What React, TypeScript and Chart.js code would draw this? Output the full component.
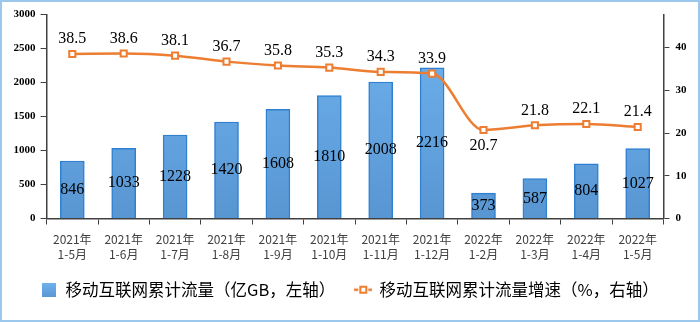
import React, { useEffect, useRef } from "react";
import { Chart, registerables } from "chart.js";

Chart.register(...registerables);

const categories: string[][] = [
  ["2021年", "1-5月"],
  ["2021年", "1-6月"],
  ["2021年", "1-7月"],
  ["2021年", "1-8月"],
  ["2021年", "1-9月"],
  ["2021年", "1-10月"],
  ["2021年", "1-11月"],
  ["2021年", "1-12月"],
  ["2022年", "1-2月"],
  ["2022年", "1-3月"],
  ["2022年", "1-4月"],
  ["2022年", "1-5月"],
];
const trafficValues = [846, 1033, 1228, 1420, 1608, 1810, 2008, 2216, 373, 587, 804, 1027];
const growthValues = [38.5, 38.6, 38.1, 36.7, 35.8, 35.3, 34.3, 33.9, 20.7, 21.8, 22.1, 21.4];
const leftTickValues = [0, 500, 1000, 1500, 2000, 2500, 3000];
const rightTickValues = [0, 10, 20, 30, 40];
const seriesNames = ["移动互联网累计流量（亿GB，左轴）", "移动互联网累计流量增速（%，右轴）"];

const ORANGE = "#ED7D31";
const BAR_BORDER = "#2F80D0";
const AXIS = "#404040";

function makeBarSwatch() {
  const c = document.createElement("canvas");
  c.width = 14;
  c.height = 14;
  const g = c.getContext("2d")!;
  const grad = g.createLinearGradient(0, 0, 0, 14);
  grad.addColorStop(0, "#6FB2EE");
  grad.addColorStop(1, "#5A98D4");
  g.fillStyle = grad;
  g.fillRect(0, 0, 14, 14);
  return c;
}

function makeLineSwatch() {
  const c = document.createElement("canvas");
  c.width = 18;
  c.height = 10;
  const g = c.getContext("2d")!;
  g.strokeStyle = ORANGE;
  g.lineWidth = 2.5;
  g.beginPath();
  g.moveTo(0, 5);
  g.lineTo(4, 5);
  g.moveTo(14, 5);
  g.lineTo(18, 5);
  g.stroke();
  g.fillStyle = "#fff";
  g.fillRect(5, 1, 8, 8);
  g.lineWidth = 2;
  g.strokeRect(6, 2, 6, 6);
  return c;
}

const valueLabelPlugin = {
  id: "valueLabels",
  afterDatasetsDraw(chart: any) {
    const ctx = chart.ctx;
    ctx.save();
    ctx.font = '16px "Liberation Serif"';
    ctx.fillStyle = "#000";
    ctx.textAlign = "center";
    ctx.textBaseline = "middle";
    const barMeta = chart.getDatasetMeta(0);
    barMeta.data.forEach((el: any, i: number) => {
      const p = el.getProps(["x", "y", "base"], true);
      ctx.fillText(String(trafficValues[i]), p.x, (p.y + p.base) / 2);
    });
    const lineMeta = chart.getDatasetMeta(1);
    lineMeta.data.forEach((el: any, i: number) => {
      const below = i > 0 && growthValues[i] < growthValues[i - 1] - 5;
      ctx.fillText(growthValues[i].toFixed(1), el.x, el.y + (below ? 16 : -15));
    });
    ctx.restore();
  },
};

export default function App() {
  const ref = useRef<HTMLCanvasElement | null>(null);

  useEffect(() => {
    if (!ref.current) return;
    const barSwatch = makeBarSwatch();
    const lineSwatch = makeLineSwatch();
    const tickFont = { family: '"Liberation Serif"', size: 11, weight: "bold" as const };

    const chart = new Chart(ref.current, {
      type: "bar",
      data: {
        labels: categories,
        datasets: [
          {
            type: "bar",
            label: seriesNames[0],
            data: trafficValues,
            yAxisID: "y",
            order: 1,
            backgroundColor: (c: any) => {
              const area = c.chart.chartArea;
              if (!area) return "#62A5E4";
              const g = c.chart.ctx.createLinearGradient(0, area.top, 0, area.bottom);
              g.addColorStop(0, "#70B4F0");
              g.addColorStop(1, "#5896D2");
              return g;
            },
            borderColor: BAR_BORDER,
            borderWidth: 1.5,
            barThickness: 24,
          } as any,
          {
            type: "line",
            label: seriesNames[1],
            data: growthValues,
            yAxisID: "y1",
            order: 0,
            borderColor: ORANGE,
            borderWidth: 2.5,
            cubicInterpolationMode: "monotone",
            pointStyle: "rect",
            pointRadius: 4.3,
            pointBorderWidth: 2,
            pointBackgroundColor: "#fff",
            pointBorderColor: ORANGE,
          } as any,
        ],
      },
      options: {
        animation: false,
        responsive: true,
        maintainAspectRatio: false,
        layout: { padding: { top: 11, bottom: 12, left: 0, right: 0 } },
        plugins: {
          tooltip: { enabled: false },
          legend: {
            position: "bottom",
            labels: {
              usePointStyle: true,
              pointStyleWidth: 16,
              boxHeight: 16,
              padding: 20,
              color: "#333",
              font: { family: '"Noto Sans CJK SC"', size: 16.5 },
              generateLabels: () => [
                { text: seriesNames[0], pointStyle: barSwatch as any, datasetIndex: 0, fillStyle: "#62A5E4", strokeStyle: "transparent", lineWidth: 0, hidden: false } as any,
                { text: seriesNames[1], pointStyle: lineSwatch as any, datasetIndex: 1, fillStyle: ORANGE, strokeStyle: "transparent", lineWidth: 0, hidden: false } as any,
              ],
            },
          },
        },
        scales: {
          x: {
            offset: true,
            grid: { display: true, drawOnChartArea: false, drawTicks: true, tickLength: 6, color: AXIS, offset: true },
            border: { display: true, color: AXIS, width: 1.5 },
            ticks: {
              color: AXIS,
              font: { family: '"Noto Sans CJK SC"', size: 12, lineHeight: 1.25 },
              padding: 7,
              maxRotation: 0,
              autoSkip: false,
            },
            afterFit: (s: any) => {
              s.height = 43;
            },
          },
          y: {
            position: "left",
            min: leftTickValues[0],
            max: leftTickValues[leftTickValues.length - 1],
            afterBuildTicks: (s: any) => {
              s.ticks = leftTickValues.map((v) => ({ value: v }));
            },
            grid: { display: true, drawOnChartArea: false, tickLength: 6, color: AXIS },
            border: { display: true, color: AXIS, width: 1.5 },
            ticks: { color: "#000", font: tickFont, padding: 5, callback: (v: any) => String(v) },
            afterFit: (s: any) => {
              s.width = 44.6;
            },
          },
          y1: {
            position: "right",
            min: 0,
            max: 47.7,
            afterBuildTicks: (s: any) => {
              s.ticks = rightTickValues.map((v) => ({ value: v }));
            },
            grid: { display: true, drawOnChartArea: false, tickLength: 6, color: AXIS },
            border: { display: true, color: AXIS, width: 1.5 },
            ticks: { color: "#000", font: tickFont, padding: 6, callback: (v: any) => String(v) },
            afterFit: (s: any) => {
              s.width = 34.6;
            },
          },
        },
      } as any,
      plugins: [valueLabelPlugin],
    });
    return () => chart.destroy();
  }, []);

  return (
    <div
      style={{
        position: "fixed",
        left: 0,
        top: 0,
        width: 700,
        height: 322,
        boxSizing: "border-box",
        border: "2px solid #9DC8EE",
        background: "#fff",
      }}
    >
      <div style={{ position: "relative", width: 696, height: 318 }}>
        <canvas ref={ref} />
      </div>
    </div>
  );
}
